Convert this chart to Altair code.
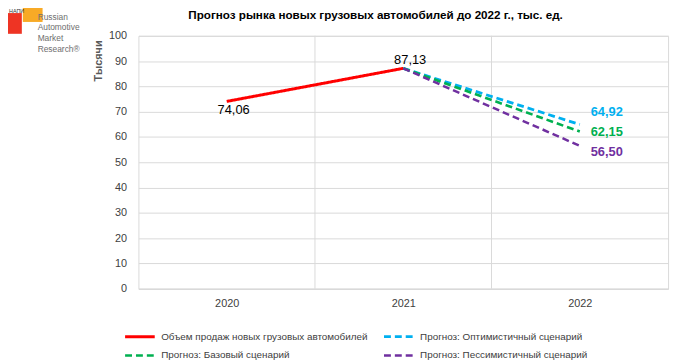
import altair as alt
import pandas as pd

years = [2020, 2021, 2022]
actual_years = [2020, 2021]
actual_values = [74.06, 87.13]
forecast_values = {"opt": 64.92, "base": 62.15, "pess": 56.50}

S_ACT = "Объем продаж новых грузовых автомобилей"
S_OPT = "Прогноз: Оптимистичный сценарий"
S_BASE = "Прогноз: Базовый сценарий"
S_PESS = "Прогноз: Пессимистичный сценарий"
series_names = [S_ACT, S_OPT, S_BASE, S_PESS]
series_colors = ["#FF0000", "#00B0F0", "#00B050", "#7030A0"]

y_ticks = list(range(0, 101, 10))
title_text = "Прогноз рынка новых грузовых автомобилей до 2022 г., тыс. ед."
y_title = "Тысячи"
logo_lines = ["Russian", "Automotive", "Market", "Research®"]

FONT = "Liberation Sans"
NARROW = "'Liberation Sans Narrow', 'Liberation Sans', sans-serif"

rows = []
for yr, v in zip(actual_years, actual_values):
    rows.append({"year": yr, "value": v, "series": S_ACT})
for key, name in [("opt", S_OPT), ("base", S_BASE), ("pess", S_PESS)]:
    rows.append({"year": actual_years[-1], "value": actual_values[-1], "series": name})
    rows.append({"year": years[-1], "value": forecast_values[key], "series": name})
df = pd.DataFrame(rows)

def fmt(v):
    return f"{v:.2f}".replace(".", ",")

xscale = alt.Scale(domain=[years[0] - 0.5, years[-1] + 0.5], nice=False, zero=False)
yscale = alt.Scale(domain=[0, 100], nice=False)

xaxis = alt.Axis(values=years, format="d", grid=False, ticks=False,
                 domainColor="#D9D9D9", labelColor="#404040",
                 labelFontSize=11, labelPadding=9, labelFont=FONT, title=None)
yaxis = alt.Axis(values=y_ticks, grid=True, gridColor="#D9D9D9", ticks=False,
                 domain=False, labelColor="#404040", labelFontSize=11,
                 labelPadding=12, labelFont=FONT, labelOverlap=False,
                 title=y_title, titleFont=FONT, titleFontSize=11,
                 titleFontWeight="bold", titleColor="#595959",
                 titleAngle=270, titleX=-40, titleY=25,
                 titleAlign="center", titleBaseline="middle")
X = alt.X("year:Q", scale=xscale, axis=xaxis)
Y = alt.Y("value:Q", scale=yscale, axis=yaxis)

leg = alt.Legend(orient="none", legendX=-15, legendY=297, columns=2, title=None,
                 direction="horizontal", values=series_names,
                 symbolType="stroke", symbolSize=900, symbolStrokeWidth=2.5,
                 clipHeight=15, rowPadding=4,
                 labelFontSize=10, labelFont=FONT, labelColor="#404040", labelLimit=0,
                 columnPadding=14, labelOffset=5, padding=0)

lines = alt.Chart(df).mark_line().encode(
    x=X, y=Y,
    color=alt.Color("series:N", sort=series_names,
                    scale=alt.Scale(domain=series_names, range=series_colors),
                    legend=leg),
    strokeDash=alt.StrokeDash("series:N", sort=series_names,
                              scale=alt.Scale(domain=series_names,
                                              range=[[1, 0], [7, 4], [7, 4], [7, 4]]),
                              legend=leg),
    strokeWidth=alt.StrokeWidth("series:N", sort=series_names,
                                scale=alt.Scale(domain=series_names, range=[3, 2.5, 2.5, 2.5]),
                                legend=leg),
)

bounds = pd.DataFrame({"year": [y + 0.5 for y in years[:-1]]})
vgrid = alt.Chart(bounds).mark_rule(color="#D9D9D9", strokeWidth=1).encode(
    x=X, y=alt.value(0), y2=alt.value(256))

act_lbl = pd.DataFrame({"year": actual_years, "value": actual_values,
                        "t": [fmt(v) for v in actual_values]})
lbl1 = alt.Chart(act_lbl.iloc[[0]]).mark_text(font=FONT, fontSize=13, color="#000000",
                                              dx=7, dy=9).encode(x=X, y=Y, text="t:N")
lbl2 = alt.Chart(act_lbl.iloc[[1]]).mark_text(font=FONT, fontSize=13, color="#000000",
                                              dx=7, dy=-8).encode(x=X, y=Y, text="t:N")

fc_layers = []
for key, col, dy in [("opt", series_colors[1], -12.5), ("base", series_colors[2], 0.7),
                     ("pess", series_colors[3], 6.5)]:
    d = pd.DataFrame({"year": [years[-1]], "value": [forecast_values[key]],
                      "t": [fmt(forecast_values[key])]})
    fc_layers.append(alt.Chart(d).mark_text(font=FONT, fontSize=13, fontWeight="bold",
                                            color=col, align="left", dx=11, dy=dy).encode(
        x=X, y=Y, text="t:N"))

one = pd.DataFrame({"k": [0]})
title = alt.Chart(one).mark_text(text=title_text, font=FONT, fontSize=11.8,
                                 fontWeight="bold", color="#000000").encode(
    x=alt.value(240), y=alt.value(-21))

red_sq = alt.Chart(one).mark_rect(color="#EE3424").encode(
    x=alt.value(-139), x2=alt.value(-118), y=alt.value(-23), y2=alt.value(-2))
org_sq = alt.Chart(one).mark_rect(color="#F8AA26").encode(
    x=alt.value(-117), x2=alt.value(-97), y=alt.value(-36), y2=alt.value(-14))
napi = alt.Chart(one).mark_text(text="НАПИ", font=FONT, fontSize=5.5, color="#333333",
                                align="left").encode(
    x=alt.value(-131), y=alt.value(-25.5))
logo_txt = []
for i, t in enumerate(logo_lines):
    logo_txt.append(alt.Chart(one).mark_text(text=t, font=NARROW,
                                             fontSize=8.5, color="#6E6E6E", align="left").encode(
        x=alt.value(-102), y=alt.value([-19, -9, 2, 13][i])))

chart = alt.layer(vgrid, lines, lbl1, lbl2, *fc_layers, title, red_sq, org_sq, napi,
                  *logo_txt).properties(
    width=536, height=256, autosize="none",
    padding={"left": 132, "top": 26, "right": 6, "bottom": 71},
).configure_view(stroke="#D9D9D9")

chart.save("out.html", embed_options={"renderer": "svg", "actions": False})
